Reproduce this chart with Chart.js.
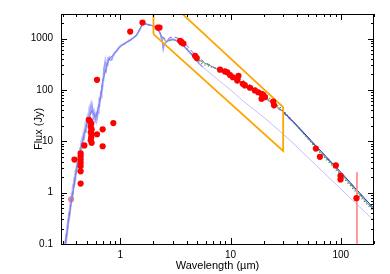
<!DOCTYPE html>
<html>
<head>
<meta charset="utf-8">
<script src="https://cdn.jsdelivr.net/npm/chart.js@4"></script>
<style>
  body { margin: 0; background: #fff; }
  #wrap { width: 390px; height: 274px; }
</style>
</head>
<body>
<div id="wrap"><canvas id="sed" width="390" height="274"></canvas></div>
<script>
// axis ticks (labels only at decades)
const xTicks = [1, 10, 100];
const yTicks = [0.1, 1, 10, 100, 1000];

// observed photometry (Jy)
const obsWave = [0.384, 0.437, 0.437, 0.437, 0.437, 0.437, 0.437, 0.437, 0.472, 0.518, 0.53, 0.545, 0.54, 0.55, 0.54, 0.55, 0.545, 0.54, 0.55, 0.615, 0.615, 0.692, 0.692, 0.865,
    1.23, 1.59, 2.19, 2.27, 3.49, 3.56, 3.6, 3.74, 4.77, 4.94,
    8.03, 8.9, 9.35, 9.9, 10.5, 11.8, 11.5, 12.9, 13.5, 15.0, 16.6, 17.8, 19.1, 19.8, 19.1, 20.5, 24.4, 24.8,
    59.4, 64.6, 90.1, 99.4, 99.4, 138.7];
const obsFlux = [4.4, 5.8, 5.1, 4.4, 3.8, 3.3, 2.6, 1.5, 8.3, 26, 25, 22, 19, 17, 15, 13.5, 12, 10.5, 9.3, 13.7, 157, 17.1, 8.0, 22.6,
    1367, 2040, 1633, 1633, 902, 874, 836, 800, 462, 417,
    247, 229, 220, 195, 176, 187, 152, 131, 122, 110, 97.5, 90, 84, 80, 67, 72, 59, 50,
    7.2, 4.97, 3.39, 2.13, 1.81, 0.78];
// faint point hidden under the spectra
const faintWave = [0.358];
const faintFlux = [0.74];
// 140 um limit bar
const limWave = [140, 140];
const limFlux = [2.48, 0.05];

// stellar spectra (lavender)
const specWave = [0.30, 0.31, 0.32, 0.33, 0.34, 0.35, 0.36, 0.37, 0.38, 0.39,
    0.40, 0.41, 0.42, 0.43, 0.44, 0.45, 0.46, 0.47, 0.48, 0.49,
    0.50, 0.51, 0.52, 0.53, 0.54, 0.55, 0.56, 0.57, 0.58, 0.59,
    0.60, 0.61, 0.62, 0.63, 0.64, 0.65, 0.66, 0.67, 0.68, 0.69,
    0.70, 0.71, 0.72, 0.73, 0.74, 0.75, 0.76, 0.77, 0.78, 0.80,
    0.82, 0.84, 0.86, 0.88, 0.90, 0.93, 0.96, 1.0, 1.05, 1.1,
    1.15, 1.2, 1.3, 1.4, 1.5, 1.55, 1.6, 1.65, 1.7, 1.8,
    1.9, 2.0, 2.1, 2.2, 2.3, 2.35, 2.4, 2.45, 2.5, 2.6,
    2.7, 2.8, 3.0, 3.2, 3.4, 3.6, 3.8, 4.0, 4.3, 4.6,
    5.0, 5.6];
const specA = [0.05, 0.09, 0.13, 0.25, 0.35, 0.62, 0.8, 1.4, 1.6, 2.7,
    3.0, 4.6, 5.0, 7.5, 7.8, 12, 11.5, 17, 16.5, 25,
    23, 34, 31, 48, 42, 55, 41, 42, 31, 36,
    29, 34, 31, 48, 47, 70, 72, 98, 100, 150,
    170, 270, 300, 400, 320, 330, 310, 420, 410, 450,
    390, 430, 470, 540, 540, 610, 650, 730, 770, 830,
    860, 930, 1010, 1180, 1470, 1750, 2020, 2100, 1920, 1880,
    1810, 1780, 1680, 1520, 1300, 1100, 950, 700, 800, 880,
    940, 960, 980, 930, 870, 810, 700, 620, 520, 440,
    350, 275];
const specB = [0.03, 0.05, 0.09, 0.14, 0.26, 0.35, 0.62, 0.75, 1.25, 1.5,
    2.4, 2.7, 4.1, 4.6, 6.6, 7.2, 10, 10.5, 14.5, 15,
    20, 21, 27, 29, 36, 35, 38, 27, 29, 23,
    27, 23, 28, 34, 45, 48, 66, 68, 90, 100,
    150, 180, 280, 290, 300, 240, 290, 310, 390, 380,
    370, 380, 450, 470, 520, 560, 630, 680, 750, 780,
    840, 880, 990, 1130, 1430, 1660, 1980, 2000, 1880, 1830,
    1790, 1730, 1620, 1480, 1200, 1000, 850, 600, 720, 820,
    900, 940, 950, 910, 850, 790, 690, 610, 520, 440,
    355, 280];
const specC = [0.045, 0.06, 0.15, 0.16, 0.4, 0.42, 0.95, 0.9, 1.9, 1.8,
    3.6, 3.2, 6.0, 5.2, 9.5, 8.2, 14, 12, 21, 17,
    29, 24, 40, 33, 52, 40, 50, 30, 38, 26,
    35, 26, 40, 36, 60, 52, 85, 75, 120, 110,
    200, 200, 330, 310, 360, 260, 330, 340, 420, 400,
    400, 390, 480, 490, 550, 570, 660, 690, 780, 790,
    870, 890, 1020, 1140, 1480, 1690, 2050, 2020, 1930, 1840,
    1820, 1740, 1670, 1490, 1280, 1020, 980, 620, 780, 840,
    930, 950, 970, 920, 860, 800, 700, 615, 525, 445,
    358, 278];
// photosphere beyond 5.6 um
const photWave = [5.6, 7.5, 10, 13.1, 21.3, 34.5, 60, 100, 183, 200];
const photFlux = [278, 165, 100, 60, 26.3, 10.5, 3.38, 1.18, 0.342, 0.285];

// disk models
const modelWave = [0.30, 0.35, 0.40, 0.45, 0.50, 0.55, 0.60, 0.65, 0.70, 0.75, 0.80, 0.90, 1.0, 1.2, 1.4, 1.6, 1.8, 2.0, 2.2, 2.4, 2.6,
    3.0, 3.5, 4.0, 4.5, 5.0, 5.7, 7.5, 10.6, 15, 21, 29, 40, 60, 100, 140, 200];
const greenFlux = [0.04, 0.45, 2.7, 9, 22, 40, 29, 58, 160, 290, 410, 530, 700, 900, 1150, 2000, 1850, 1750, 1500, 1050, 870,
    950, 850, 640, 490, 395, 340, 255, 176, 112, 72, 40, 19.5, 7.5, 2.35, 1.05, 0.45];
const purpleFlux = [0.04, 0.45, 2.7, 9, 22, 40, 29, 58, 160, 290, 410, 530, 700, 900, 1150, 2000, 1850, 1750, 1500, 1080, 960,
    1090, 980, 740, 550, 435, 357, 255, 171, 106, 67, 38, 20, 7.9, 2.5, 1.11, 0.48];
const dotWave = [4.0, 4.5, 5.0, 5.7, 7.5, 10.6, 15, 21, 29, 40, 60, 100, 140, 200];
const dotFlux = [640, 480, 370, 310, 262, 195, 124, 80, 43, 20, 7.2, 2.2, 0.98, 0.42];
const blueWave = [29, 40, 60, 100, 140, 200];
const blueFlux = [41, 20.5, 8.0, 2.5, 1.13, 0.49];

// 2-30 um box
const boxWave = [2, 2, 30, 30, 2];
const boxFlux = [1216, 10000, 46, 6.5, 1216];

function pts(xs, ys) {
    return xs.map((v, i) => ({x: v, y: ys[i]}));
}

function line(xs, ys, color, width, dash) {
    return {
        data: pts(xs, ys), showLine: true, pointRadius: 0,
        borderColor: color, borderWidth: width, borderDash: dash || [],
        tension: 0, fill: false,
    };
}

// ticks inside the frame, on all four sides
const frameTicks = {
    id: "frameTicks",
    afterDraw(chart) {
        const {ctx, chartArea: a, scales: {x, y}} = chart;
        ctx.save();
        ctx.strokeStyle = "#000";
        ctx.lineWidth = 1;
        ctx.beginPath();
        for (let e = -1; e <= 2; e++) {
            for (let k = 1; k <= 9; k++) {
                const v = k * Math.pow(10, e);
                if (v < x.min || v > x.max) continue;
                const px = Math.round(x.getPixelForValue(v)) + 0.5;
                const len = k === 1 ? 6 : 3;
                ctx.moveTo(px, a.bottom); ctx.lineTo(px, a.bottom - len);
                ctx.moveTo(px, a.top); ctx.lineTo(px, a.top + len);
            }
        }
        for (let e = -1; e <= 3; e++) {
            for (let k = 1; k <= 9; k++) {
                const v = k * Math.pow(10, e);
                if (v < y.min || v > y.max) continue;
                const py = Math.round(y.getPixelForValue(v)) + 0.5;
                const len = k === 1 ? 6 : 3;
                ctx.moveTo(a.left, py); ctx.lineTo(a.left + len, py);
                ctx.moveTo(a.right, py); ctx.lineTo(a.right - len, py);
            }
        }
        ctx.stroke();
        ctx.strokeRect(a.left + 0.5, a.top + 0.5, a.right - a.left - 1, a.bottom - a.top);
        ctx.restore();
    },
};

Chart.defaults.font.family = "'Liberation Sans', Arial, sans-serif";
Chart.defaults.color = "#000";

const lav = "rgba(135,135,255,0.55)";

new Chart(document.getElementById("sed"), {
    type: "scatter",
    data: {
        datasets: [
            {data: pts(obsWave, obsFlux), pointRadius: 3.1, pointBackgroundColor: "#ff0000", pointBorderWidth: 0},
            line(limWave, limFlux, "#ff8c8c", 1),
            line(boxWave, boxFlux, "#ffa500", 1.8),
            line(specWave, specA, lav, 1.2),
            line(specWave, specB, lav, 1.2),
            line(specWave, specC, lav, 1.2),
            line(blueWave, blueFlux, "#3030d8", 1),
            line(modelWave, purpleFlux, "#9a4cf0", 1, [4, 3]),
            line(dotWave, dotFlux, "#666666", 1.3, [1, 2.5]),
            line(modelWave, greenFlux, "#33b533", 1),
            line(photWave, photFlux, "rgba(150,150,255,0.6)", 1),
            {data: pts(faintWave, faintFlux), pointRadius: 3.1, pointBackgroundColor: "#f08a8a", pointBorderWidth: 0},
        ],
    },
    options: {
        responsive: false,
        animation: false,
        layout: {padding: {left: 0, top: 13, right: 16, bottom: 0}},
        plugins: {legend: {display: false}, tooltip: {enabled: false}},
        scales: {
            x: {
                type: "logarithmic", min: 0.29, max: 200,
                afterFit: s => { s.height = 30; },
                afterBuildTicks: s => { s.ticks = xTicks.map(v => ({value: v})); },
                ticks: {callback: v => String(v), padding: 5, maxRotation: 0, autoSkip: false, font: {size: 10}},
                grid: {display: false, drawTicks: false},
                border: {display: false},
                title: {display: true, text: "Wavelength (\u00b5m)", font: {size: 11}, padding: {top: 0, bottom: 1}},
            },
            y: {
                type: "logarithmic", min: 0.1, max: 3000,
                afterFit: s => { s.width = 61; },
                afterBuildTicks: s => { s.ticks = yTicks.map(v => ({value: v})); },
                ticks: {callback: v => String(v), padding: 8, autoSkip: false, font: {size: 10}},
                grid: {display: false, drawTicks: false},
                border: {display: false},
                title: {display: true, text: "Flux (Jy)", font: {size: 11}, padding: {top: 32, bottom: 0}},
            },
        },
    },
    plugins: [frameTicks],
});
</script>
</body>
</html>
